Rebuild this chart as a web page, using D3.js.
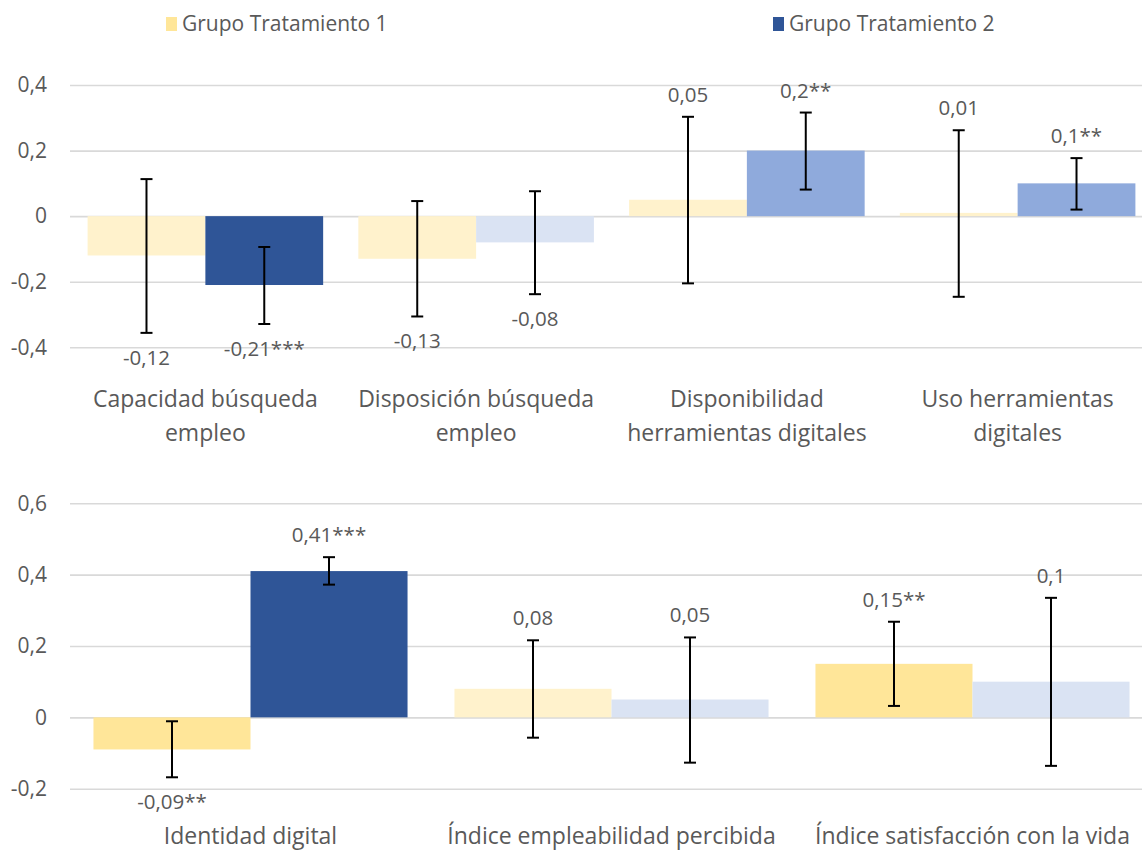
<!DOCTYPE html>
<html>
<head>
<meta charset="utf-8">
<script src="https://cdn.jsdelivr.net/npm/d3@7"></script>
<style>
  html, body { margin: 0; padding: 0; background: #fff; }
  svg { display: block; }
  text { font-family: "Open Sans", "Noto Sans", sans-serif; fill: #595959; }
</style>
</head>
<body>
<svg id="chart" width="1142" height="850"></svg>
<script>
// ---------------- DATA ----------------
const seriesNames = ["Grupo Tratamiento 1", "Grupo Tratamiento 2"];

// Top panel
const topCategories = [
  ["Capacidad búsqueda", "empleo"],
  ["Disposición búsqueda", "empleo"],
  ["Disponibilidad", "herramientas digitales"],
  ["Uso herramientas", "digitales"]
];
const topT1 = [-0.12, -0.13, 0.05, 0.01];
const topT2 = [-0.21, -0.08, 0.20, 0.10];
const topT1Stars = ["", "", "", ""];
const topT2Stars = ["***", "", "**", "**"];
const topT1Low  = [-0.356, -0.306, -0.205, -0.246];
const topT1High = [ 0.113,  0.046,  0.303,  0.262];
const topT2Low  = [-0.329, -0.238,  0.081,  0.020];
const topT2High = [-0.094,  0.076,  0.316,  0.177];
const topTicks = [-0.4, -0.2, 0, 0.2, 0.4];

// Bottom panel
const bottomCategories = [
  ["Identidad digital"],
  ["Índice empleabilidad percibida"],
  ["Índice satisfacción con la vida"]
];
const botT1 = [-0.09, 0.08, 0.15];
const botT2 = [0.41, 0.05, 0.10];
const botT1Stars = ["**", "", "**"];
const botT2Stars = ["***", "", ""];
const botT1Low  = [-0.168, -0.057, 0.032];
const botT1High = [-0.011,  0.216, 0.268];
const botT2Low  = [ 0.372, -0.127, -0.136];
const botT2High = [ 0.449,  0.224,  0.335];
const bottomTicks = [-0.2, 0, 0.2, 0.4, 0.6];

// ---------------- STYLE ----------------
const TEXT = "#595959";
const GRID = "#D9D9D9";
function colorT1(stars) { return stars ? "#FFE699" : "#FFF2CC"; }
function colorT2(stars) { return stars === "***" ? "#2F5597" : (stars ? "#8FAADC" : "#DAE3F3"); }
const fmt = v => String(+v.toFixed(2)).replace(".", ",");

const svg = d3.select("#chart");

// Legend
const legendItems = [
  { name: seriesNames[0], color: "#FFE699", x: 166 },
  { name: seriesNames[1], color: "#2F5597", x: 773 }
];
const lg = svg.append("g");
legendItems.forEach(it => {
  lg.append("rect").attr("x", it.x).attr("y", 17).attr("width", 11).attr("height", 14).attr("fill", it.color);
  lg.append("text").attr("x", it.x + 16).attr("y", 31).attr("font-size", 21).text(it.name);
});

function panel(cfg) {
  const g = svg.append("g");
  const x0 = d3.scaleBand().domain(d3.range(cfg.cats.length)).range([70, 1153])
    .paddingInner(0.13).paddingOuter(0.065);
  const x1 = d3.scaleBand().domain([0, 1]).range([0, x0.bandwidth()]);
  const y = d3.scaleLinear().domain(cfg.domain).range(cfg.range);

  // gridlines via axis
  const yAxis = d3.axisLeft(y).tickValues(cfg.ticks).tickSize(-(1142 - 70)).tickFormat(d => fmt(d));
  const ax = g.append("g").attr("transform", "translate(70,0)").call(yAxis);
  ax.select(".domain").remove();
  ax.selectAll(".tick line").attr("stroke", GRID).attr("stroke-width", 1.6);
  ax.selectAll(".tick text").attr("x", -23).attr("fill", TEXT)
    .attr("font-size", 21).style("font-family", '"Open Sans", sans-serif');

  const rows = cfg.cats.map((c, i) => ({
    i,
    s: [
      { k: 0, v: cfg.t1[i], st: cfg.t1s[i], lo: cfg.t1lo[i], hi: cfg.t1hi[i], col: colorT1(cfg.t1s[i]) },
      { k: 1, v: cfg.t2[i], st: cfg.t2s[i], lo: cfg.t2lo[i], hi: cfg.t2hi[i], col: colorT2(cfg.t2s[i]) }
    ]
  }));

  const grp = g.selectAll("g.cat").data(rows).join("g")
    .attr("transform", d => `translate(${x0(d.i)},0)`);

  grp.selectAll("rect").data(d => d.s).join("rect")
    .attr("x", d => x1(d.k)).attr("width", x1.bandwidth())
    .attr("y", d => y(Math.max(0, d.v)))
    .attr("height", d => Math.abs(y(d.v) - y(0)))
    .attr("fill", d => d.col);

  // error bars
  const eb = grp.selectAll("g.eb").data(d => d.s).join("g").attr("class", "eb");
  const cx = d => x1(d.k) + x1.bandwidth() / 2;
  eb.append("line").attr("x1", cx).attr("x2", cx).attr("y1", d => y(d.hi)).attr("y2", d => y(d.lo))
    .attr("stroke", "#000").attr("stroke-width", 2);
  eb.append("line").attr("x1", d => cx(d) - 6).attr("x2", d => cx(d) + 6).attr("y1", d => y(d.hi)).attr("y2", d => y(d.hi))
    .attr("stroke", "#000").attr("stroke-width", 2);
  eb.append("line").attr("x1", d => cx(d) - 6).attr("x2", d => cx(d) + 6).attr("y1", d => y(d.lo)).attr("y2", d => y(d.lo))
    .attr("stroke", "#000").attr("stroke-width", 2);

  // data labels
  grp.selectAll("text.lbl").data(d => d.s).join("text").attr("class", "lbl")
    .attr("x", cx).attr("text-anchor", "middle").attr("font-size", 20.5)
    .attr("y", d => d.v < 0 ? y(d.lo) + 25 + 7 : y(d.hi) - 22 + 7)
    .text(d => fmt(d.v) + d.st);

  // category labels
  const cl = g.selectAll("text.cat").data(rows).join("text").attr("class", "cat")
    .attr("text-anchor", "middle").attr("font-size", 23);
  cl.each(function(d) {
    const t = d3.select(this);
    cfg.cats[d.i].forEach((line, j) => {
      t.append("tspan").attr("x", x0(d.i) + x0.bandwidth() / 2).attr("y", cfg.catY + j * 34).text(line);
    });
  });
}

panel({
  cats: topCategories, t1: topT1, t2: topT2, t1s: topT1Stars, t2s: topT2Stars,
  t1lo: topT1Low, t1hi: topT1High, t2lo: topT2Low, t2hi: topT2High,
  domain: [-0.4, 0.4], range: [347.3, 85], ticks: topTicks, catY: 406.5
});
panel({
  cats: bottomCategories, t1: botT1, t2: botT2, t1s: botT1Stars, t2s: botT2Stars,
  t1lo: botT1Low, t1hi: botT1High, t2lo: botT2Low, t2hi: botT2High,
  domain: [-0.2, 0.6], range: [788.7, 503.3], ticks: bottomTicks, catY: 843.5
});
</script>
</body>
</html>
